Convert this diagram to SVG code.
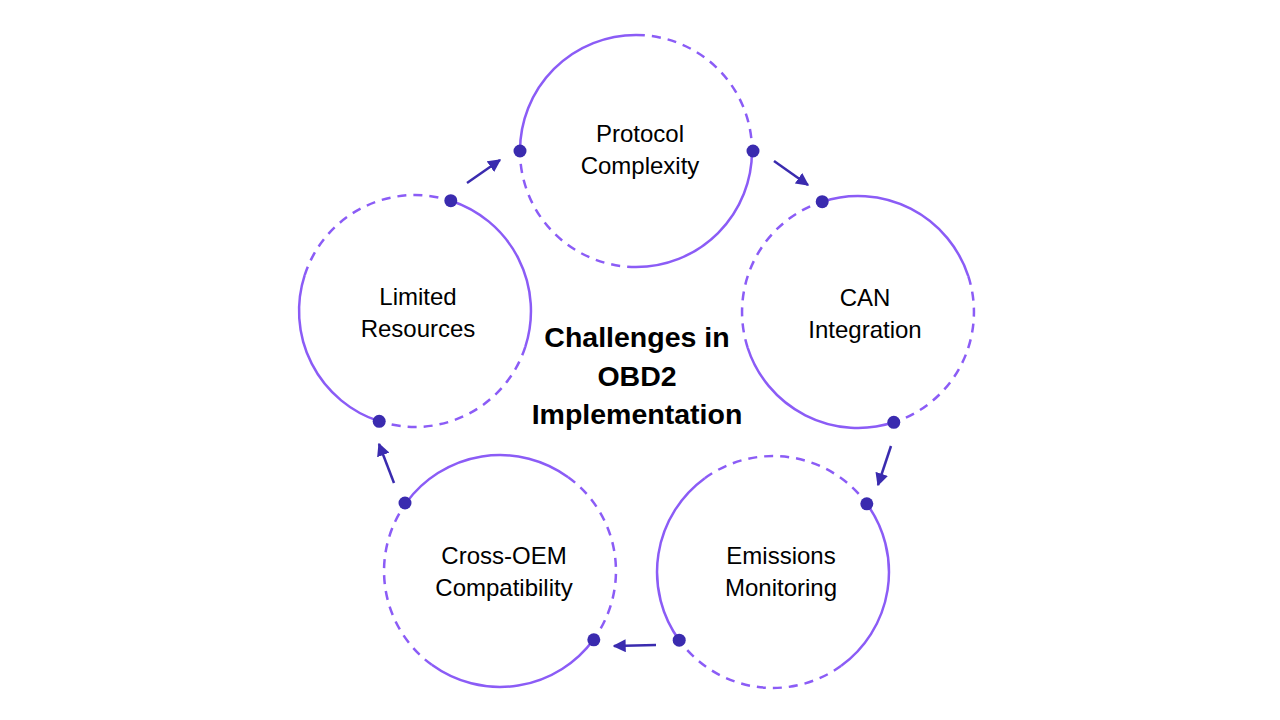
<svg xmlns="http://www.w3.org/2000/svg" width="1280" height="720" viewBox="0 0 1280 720">
  <style>
    .solid { fill: none; stroke: #8B5CF6; stroke-width: 2.5; }
    .dash { fill: none; stroke: #8B5CF6; stroke-width: 2.5; stroke-dasharray: 9 7; }
    .dot { fill: #3A2BAF; }
    .lbl { font-family: "Liberation Sans", Arial, sans-serif; font-size: 24px; fill: #000; text-anchor: middle; }
    .title { font-family: "Liberation Sans", Arial, sans-serif; font-size: 28.5px; font-weight: bold; fill: #000; text-anchor: middle; }
    .arrow { stroke: #3A2BAF; stroke-width: 2.5; fill: none; marker-end: url(#ah); }
  </style>
  <defs>
    <marker id="ah" markerUnits="userSpaceOnUse" markerWidth="13" markerHeight="13" viewBox="0 0 10 10" refX="9" refY="5" orient="auto">
      <path d="M0,0 L10,5 L0,10 z" fill="#3A2BAF"/>
    </marker>
  </defs>
  <rect width="1280" height="720" fill="#FFFFFF"/>

  <g id="node-protocol">
    <path class="solid" d="M520,151 A116,116 0 0 1 636,35"/>
    <path class="dash" d="M636,35 A116,116 0 0 1 752,151"/>
    <path class="solid" d="M752,151 A116,116 0 0 1 636,267"/>
    <path class="dash" d="M636,267 A116,116 0 0 1 520,151"/>
    <circle class="dot" cx="520" cy="151" r="6.5"/>
    <circle class="dot" cx="753" cy="151" r="6.5"/>
    <text class="lbl" x="640" y="142">Protocol</text>
    <text class="lbl" x="640" y="174">Complexity</text>
  </g>

  <g id="node-can">
    <path class="solid" d="M822.2,201.7 A116,116 0 0 1 968.3,276.2"/>
    <path class="dash" d="M968.3,276.2 A116,116 0 0 1 893.8,422.3"/>
    <path class="solid" d="M893.8,422.3 A116,116 0 0 1 747.7,347.8"/>
    <path class="dash" d="M747.7,347.8 A116,116 0 0 1 822.2,201.7"/>
    <circle class="dot" cx="822.2" cy="201.7" r="6.5"/>
    <circle class="dot" cx="893.8" cy="422.3" r="6.5"/>
    <text class="lbl" x="865" y="306">CAN</text>
    <text class="lbl" x="865" y="338">Integration</text>
  </g>

  <g id="node-emissions">
    <path class="solid" d="M866.8,503.8 A116,116 0 0 1 841.2,665.8"/>
    <path class="dash" d="M841.2,665.8 A116,116 0 0 1 679.2,640.2"/>
    <path class="solid" d="M679.2,640.2 A116,116 0 0 1 704.8,478.2"/>
    <path class="dash" d="M704.8,478.2 A116,116 0 0 1 866.8,503.8"/>
    <circle class="dot" cx="866.8" cy="503.8" r="6.5"/>
    <circle class="dot" cx="679.2" cy="640.2" r="6.5"/>
    <text class="lbl" x="781" y="564">Emissions</text>
    <text class="lbl" x="781" y="596">Monitoring</text>
  </g>

  <g id="node-crossoem">
    <path class="solid" d="M406.2,502.8 A116,116 0 0 1 568.2,477.2"/>
    <path class="dash" d="M568.2,477.2 A116,116 0 0 1 593.8,639.2"/>
    <path class="solid" d="M593.8,639.2 A116,116 0 0 1 431.8,664.8"/>
    <path class="dash" d="M431.8,664.8 A116,116 0 0 1 406.2,502.8"/>
    <circle class="dot" cx="405" cy="503" r="6.5"/>
    <circle class="dot" cx="593.8" cy="639.8" r="6.5"/>
    <text class="lbl" x="504" y="564">Cross-OEM</text>
    <text class="lbl" x="504" y="596">Compatibility</text>
  </g>

  <g id="node-limited">
    <path class="solid" d="M379.2,421.3 A116,116 0 0 1 304.7,275.2"/>
    <path class="dash" d="M304.7,275.2 A116,116 0 0 1 450.8,200.7"/>
    <path class="solid" d="M450.8,200.7 A116,116 0 0 1 525.3,346.8"/>
    <path class="dash" d="M525.3,346.8 A116,116 0 0 1 379.2,421.3"/>
    <circle class="dot" cx="379.2" cy="421.3" r="6.5"/>
    <circle class="dot" cx="450.8" cy="200.7" r="6.5"/>
    <text class="lbl" x="418" y="305">Limited</text>
    <text class="lbl" x="418" y="337">Resources</text>
  </g>

  <g id="title">
    <text class="title" x="637" y="347">Challenges in</text>
    <text class="title" x="637" y="386">OBD2</text>
    <text class="title" x="637" y="424">Implementation</text>
  </g>

  <g id="connectors">
    <line class="arrow" x1="467" y1="183" x2="500" y2="160"/>
    <line class="arrow" x1="774" y1="161" x2="808" y2="185"/>
    <line class="arrow" x1="891" y1="446" x2="878" y2="485"/>
    <line class="arrow" x1="656" y1="645" x2="614" y2="646"/>
    <line class="arrow" x1="394" y1="483" x2="379" y2="444"/>
  </g>
</svg>
